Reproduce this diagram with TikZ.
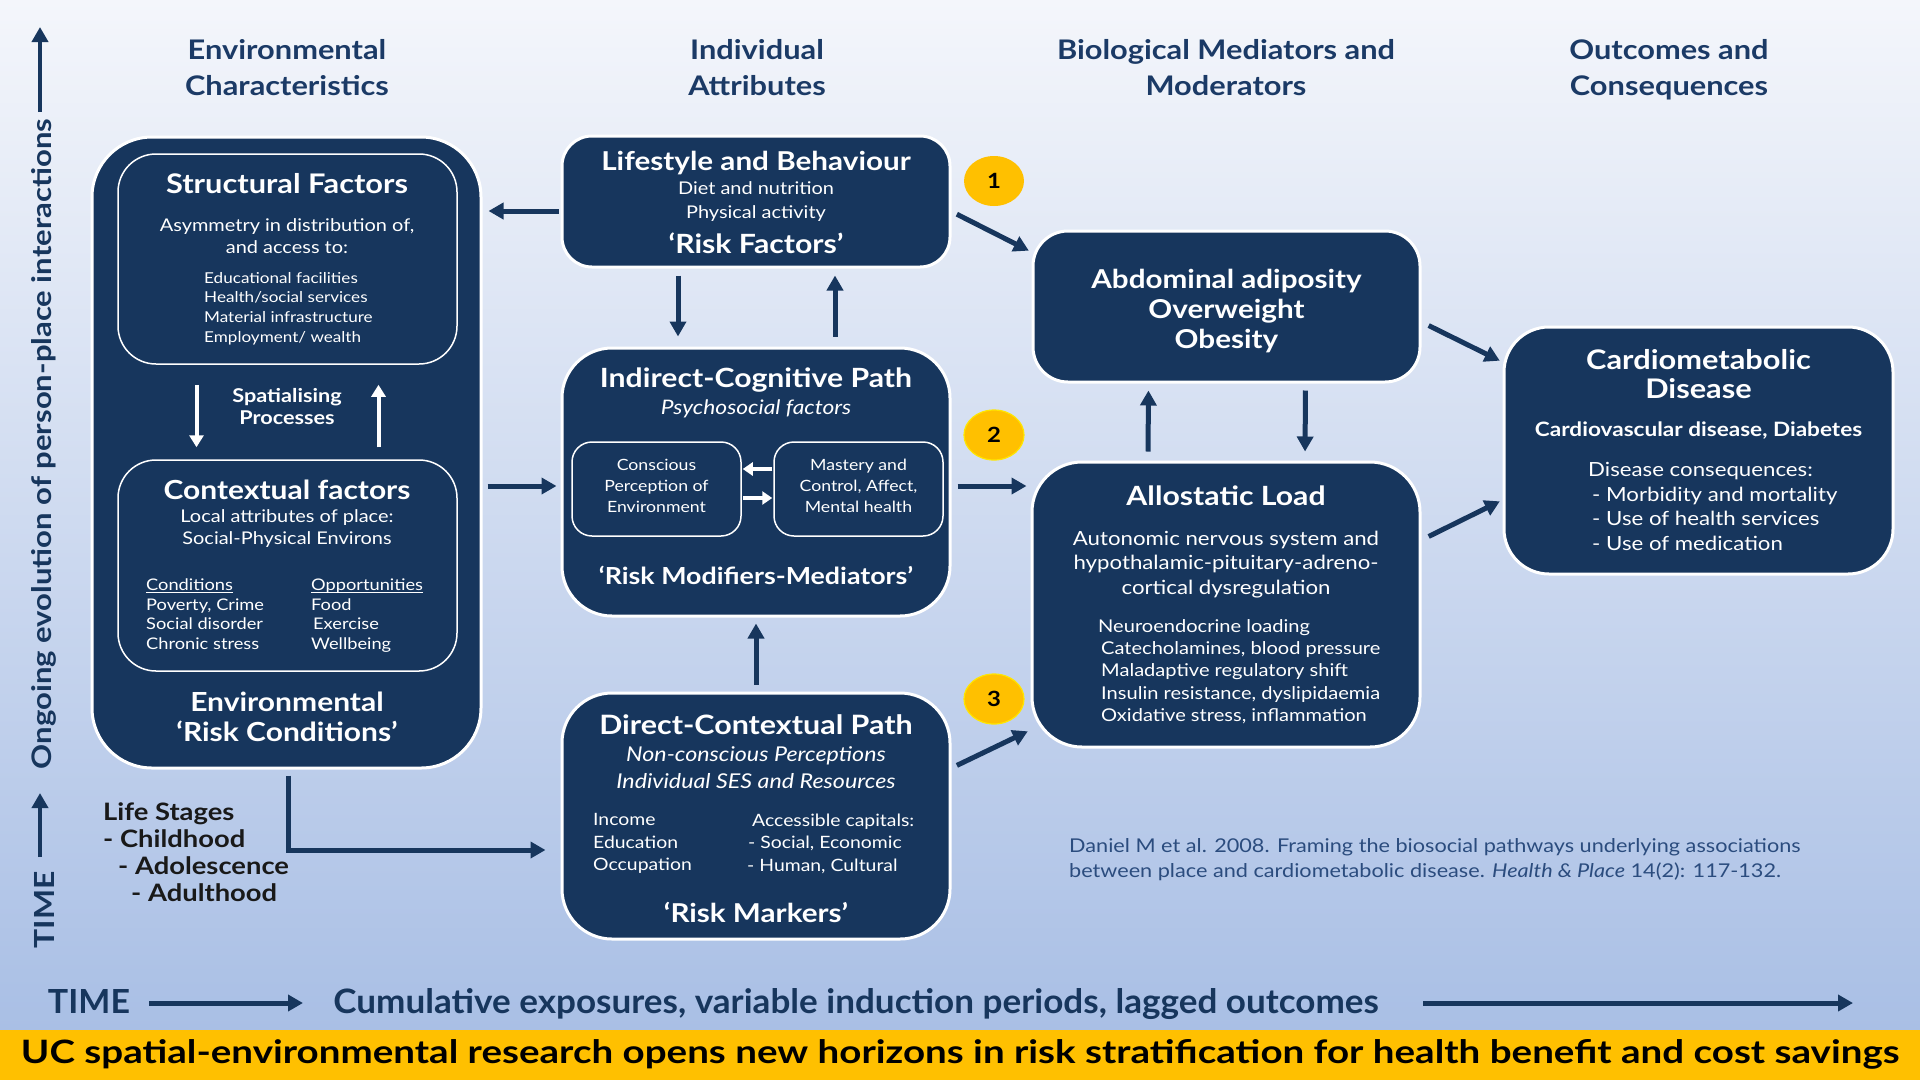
\documentclass[tikz,border=0pt]{standalone}
\usepackage{fontspec}
\setmainfont{Lato}[FakeStretch=1.14]
\usetikzlibrary{arrows.meta,shapes.geometric,calc}
\definecolor{navy}{HTML}{17365D}
\definecolor{hnavy}{HTML}{1B3A66}
\definecolor{citec}{HTML}{2B4C7E}
\definecolor{bgtop}{HTML}{F4F6FB}
\definecolor{bgbot}{HTML}{A9BFE5}
\definecolor{ucyel}{HTML}{FFC000}
\definecolor{ringyel}{HTML}{FFE600}
\newcommand{\flatul}[1]{\underline{\raisebox{0pt}[\height][0pt]{#1}}}
\tikzset{
  bigbox/.style={draw=white,line width=3pt,fill=navy,rectangle,inner sep=0pt},
  inbox/.style={draw=white,line width=1.5pt,fill=navy,rectangle,inner sep=0pt},
  wt/.style={text=white,align=center,inner sep=0pt},
  hdr/.style={text=hnavy,align=center,inner sep=0pt,font=\fontsize{27}{36}\selectfont\bfseries},
  arr/.style={draw=navy,line width=5pt,-{Triangle[length=15pt,width=16pt]}},
  warr/.style={draw=white,line width=4pt,-{Triangle[length=12pt,width=14pt]}},
  wsarr/.style={draw=white,line width=3.5pt,-{Triangle[length=10pt,width=13pt]}},
  numc/.style={ellipse,fill=ucyel,minimum width=60pt,minimum height=50pt,inner sep=0pt,font=\fontsize{21}{24}\selectfont\bfseries,text=black},
}
\begin{document}
\begin{tikzpicture}[x=1pt,y=-1pt]
\useasboundingbox (0,0) rectangle (1920,1080);
% background
\shade[top color=bgtop,bottom color=bgbot] (0,0) rectangle (1920,1030);
\fill[ucyel] (0,1030) rectangle (1920,1080);

% headers
\node[hdr] (h1) at (287,68) {Environmental\\Characteristics};
\node[hdr] (h2) at (757,68) {Individual\\Attributes};
\node[hdr] (h3) at (1226,68) {Biological Mediators and\\Moderators};
\node[hdr] (h4) at (1669,70) {Outcomes and\\Consequences};

% boxes
\node[bigbox,rounded corners=60pt,minimum width=389pt,minimum height=631pt] (env) at (286.5,452.5) {};
\node[inbox,rounded corners=38pt,minimum width=339pt,minimum height=210pt] (struct) at (287.5,259) {};
\node[inbox,rounded corners=38pt,minimum width=339pt,minimum height=211pt] (context) at (287.5,565.5) {};
\node[bigbox,rounded corners=30pt,minimum width=388pt,minimum height=131pt] (life) at (756,201.5) {};
\node[bigbox,rounded corners=50pt,minimum width=388pt,minimum height=268pt] (indirect) at (756,482) {};
\node[inbox,rounded corners=20pt,minimum width=169pt,minimum height=94pt] (consc) at (656.5,489) {};
\node[inbox,rounded corners=20pt,minimum width=169pt,minimum height=94pt] (mastery) at (858.5,489) {};
\node[bigbox,rounded corners=50pt,minimum width=388pt,minimum height=246pt] (direct) at (756,816) {};
\node[bigbox,rounded corners=35pt,minimum width=387pt,minimum height=151pt] (abd) at (1226.5,306.5) {};
\node[bigbox,rounded corners=50pt,minimum width=388pt,minimum height=285pt] (allo) at (1226,604.5) {};
\node[bigbox,rounded corners=45pt,minimum width=389pt,minimum height=247pt] (cardio) at (1698.5,450.5) {};

% structural text
\node[wt,font=\fontsize{27}{30}\selectfont\bfseries] (t1) at (287,184) {Structural Factors};
\node[wt,font=\fontsize{17.5}{22}\selectfont] (t2) at (287,236) {Asymmetry in distribution of,\\and access to:};
\node[wt,align=left,anchor=west,font=\fontsize{15}{19.7}\selectfont] (t3) at (204,308.5) {Educational facilities\\Health/social services\\Material infrastructure\\Employment/ wealth};
\draw[warr,shorten <=20pt,shorten >=12pt] ([xshift=-91pt]struct.south) -- ([xshift=-91pt]context.north);
\draw[warr,shorten <=12pt,shorten >=20pt] ([xshift=91pt]context.north) -- ([xshift=91pt]struct.south);
\node[wt,font=\fontsize{19}{22}\selectfont\bfseries] (sp) at (287,407) {Spatialising\\Processes};

% contextual text
\node[wt,font=\fontsize{26.3}{30}\selectfont\bfseries] (t4) at (287,490) {Contextual factors};
\node[wt,font=\fontsize{17.5}{22}\selectfont] (t5) at (287,529) {Local attributes of place:\\Social-Physical Environs};
\node[wt,align=left,anchor=north west,font=\fontsize{16}{19.7}\selectfont] (t6) at (146,578.5) {\flatul{Conditions}\\Poverty, Crime\\Social disorder\\Chronic stress};
\node[wt,align=left,anchor=north west,font=\fontsize{16}{19.7}\selectfont] (t7) at (311,578.5) {\flatul{Opportunities}\\Food\\\hspace*{2pt}Exercise\\Wellbeing};
\node[wt,font=\fontsize{26.3}{30}\selectfont\bfseries] (t8) at (287,717) {Environmental\\‘Risk Conditions’};

% lifestyle text
\node[wt,font=\fontsize{26}{30}\selectfont\bfseries] (t9) at (756,163) {Lifestyle and Behaviour};
\node[wt,font=\fontsize{17.5}{24}\selectfont] (t10) at (756,202) {Diet and nutrition\\Physical activity};
\node[wt,font=\fontsize{26.5}{28}\selectfont\bfseries] (t11) at (756,243) {‘Risk Factors’};

% indirect text
\node[wt,font=\fontsize{26.5}{30}\selectfont\bfseries] (t12) at (756,380) {Indirect-Cognitive Path};
\node[wt,font=\fontsize{20}{24}\selectfont\itshape] (t13) at (756,409) {Psychosocial factors};
\node[wt,font=\fontsize{15.5}{21}\selectfont] (t14) at (656.5,486) {Conscious\\Perception of\\Environment};
\node[wt,font=\fontsize{15.5}{21}\selectfont] (t15) at (858.5,486) {Mastery and\\Control, Affect,\\Mental health};
\draw[wsarr,shorten <=1pt,shorten >=1pt] ([yshift=20pt]mastery.west) -- ([yshift=20pt]consc.east);
\draw[wsarr,shorten <=1pt,shorten >=1pt] ([yshift=-9pt]consc.east) -- ([yshift=-9pt]mastery.west);
\node[wt,font=\fontsize{23.5}{26}\selectfont\bfseries] (t16) at (756,575) {‘Risk Modifiers-Mediators’};

% direct text
\node[wt,font=\fontsize{26.7}{30}\selectfont\bfseries] (t17) at (756,725) {Direct-Contextual Path};
\node[wt,font=\fontsize{20.4}{27}\selectfont\itshape] (t18) at (756,767.5) {Non-conscious Perceptions\\Individual SES and Resources};
\node[wt,align=left,anchor=west,font=\fontsize{17}{22.5}\selectfont] (t19) at (593,843.5) {Income\\Education\\Occupation};
\node[wt,align=left,anchor=west,font=\fontsize{17}{22.5}\selectfont] (t20) at (747,843.5) {\hspace*{5pt}Accessible capitals:\\\hspace*{1pt}- Social, Economic\\- Human, Cultural};
\node[wt,font=\fontsize{26}{28}\selectfont\bfseries] (t21) at (756,912) {‘Risk Markers’};

% abdominal text
\node[wt,font=\fontsize{26}{30}\selectfont\bfseries] (t22) at (1226.5,311) {Abdominal adiposity\\Overweight\\Obesity};

% allostatic text
\node[wt,font=\fontsize{26.5}{30}\selectfont\bfseries] (t23) at (1226,496) {Allostatic Load};
\node[wt,font=\fontsize{19.5}{24.5}\selectfont] (t24) at (1226,564.5) {Autonomic nervous system and\\hypothalamic-pituitary-adreno-\\cortical dysregulation};
\node[wt,align=left,anchor=west,font=\fontsize{17.6}{22.2}\selectfont] (t25) at (1098,671.5) {Neuroendocrine loading\\\hspace*{3pt}Catecholamines, blood pressure\\\hspace*{3pt}Maladaptive regulatory shift\\\hspace*{3pt}Insulin resistance, dyslipidaemia\\\hspace*{3pt}Oxidative stress, inflammation};

% cardio text
\node[wt,font=\fontsize{27}{29}\selectfont\bfseries] (t26) at (1698.5,374.5) {Cardiometabolic\\Disease};
\node[wt,font=\fontsize{19.8}{21}\selectfont\bfseries] (t27) at (1698.5,431) {Cardiovascular disease, Diabetes};
\node[wt,align=left,anchor=west,font=\fontsize{19.5}{24.5}\selectfont] (t28) at (1588,506.5) {Disease consequences:\\\hspace*{4pt}- Morbidity and mortality\\\hspace*{4pt}- Use of health services\\\hspace*{4pt}- Use of medication};

% number circles
\node[numc] (n1) at (994,181) {1};
\node[numc,draw=ringyel,line width=1.2pt] (n2) at (994,435) {2};
\node[numc,draw=ringyel,line width=1.2pt] (n3) at (994,699) {3};

% connectors
\draw[arr,shorten <=2pt,shorten >=6pt] ([yshift=-9.5pt]life.west) -- ([yshift=-9.5pt]life.west -| env.east);
\draw[arr,shorten <=5pt,shorten >=4pt] ([yshift=-4pt]indirect.west -| env.east) -- ([yshift=-4pt]indirect.west);
\draw[arr,shorten <=7pt,shorten >=10pt] ([xshift=-78pt]life.south) -- ([xshift=-78pt]indirect.north);
\draw[arr,shorten <=10pt,shorten >=7pt] ([xshift=79pt]indirect.north) -- ([xshift=79pt]life.south);
\draw[arr,shorten <=7pt,shorten >=6pt] (direct.north) -- (indirect.south);
\draw[arr,shorten <=6pt,shorten >=3pt] ([yshift=-10pt]life.east) -- ([yshift=54.5pt]abd.west);
\draw[arr,shorten <=6pt,shorten >=4pt] ([yshift=-4pt]indirect.east) -- ([yshift=-4pt]indirect.east -| allo.west);
\draw[arr,shorten <=6pt,shorten >=3pt] ([yshift=48pt]direct.east) -- ([yshift=-125.5pt]allo.west);
\draw[arr,shorten <=9pt,shorten >=7pt] ([xshift=-78pt]allo.north) -- ([xshift=-78pt]abd.south);
\draw[arr,shorten <=7pt,shorten >=9pt] ([xshift=79pt]abd.south) -- ([xshift=79pt]allo.north);
\draw[arr,shorten <=8pt,shorten >=3pt] ([yshift=-15.5pt]abd.east) -- ([yshift=88.5pt]cardio.west);
\draw[arr,shorten <=8pt,shorten >=3pt] ([yshift=64.5pt]allo.east) -- ([yshift=-49.5pt]cardio.west);
\draw[arr,shorten <=6pt,shorten >=15pt] ([xshift=1.5pt]env.south) |- ([yshift=-34pt]direct.west);

% life stages
\node[align=left,anchor=west,inner sep=0pt,text=black!90,font=\fontsize{24}{27}\selectfont\bfseries] (ls) at (103,852.5) {Life Stages\\- Childhood\\\hspace*{15pt}- Adolescence\\\hspace*{28pt}- Adulthood};

% citation
\node[align=left,anchor=west,inner sep=0pt,text=citec,font=\fontsize{19}{25}\selectfont] (cite) at (1069,859.5) {Daniel M et al. 2008. Framing the biosocial pathways underlying associations\\between place and cardiometabolic disease. \textit{Health \& Place} 14(2): 117-132.};

% left vertical axis
\node[rotate=90,inner sep=0pt,text=navy,font=\bfseries] (vtime) at (44,910) {\resizebox{77pt}{20pt}{TIME}};
\node[rotate=90,inner sep=0pt,text=navy,font=\bfseries] (vtext) at (44,444) {\resizebox{650pt}{20pt}{Ongoing evolution of person-place interactions}};
\coordinate (va1) at (40,857);
\coordinate (va2) at (40,793);
\coordinate (vb1) at (40,112);
\coordinate (vb2) at (40,27);
\draw[arr,line width=4pt] (va1) -- (va2);
\draw[arr,line width=4pt] (vb1) -- (vb2);

% bottom axis
\node[inner sep=0pt,text=navy,font=\bfseries,anchor=base] (btime) at (89,1013) {\resizebox{82pt}{24pt}{TIME}};
\node[inner sep=0pt,text=navy,font=\bfseries,anchor=base] (btext) at (856,1013) {\resizebox{1045pt}{25pt}{Cumulative exposures, variable induction periods, lagged outcomes}};
\coordinate (ba1) at (149,1003);
\coordinate (ba2) at (303,1003);
\coordinate (bb1) at (1423,1003);
\coordinate (bb2) at (1853,1003);
\draw[arr] (ba1) -- (ba2);
\draw[arr] (bb1) -- (bb2);

% yellow band text
\node[inner sep=0pt,text=black,font=\bfseries,anchor=base] (uc) at (960,1063) {\resizebox{1878pt}{24pt}{UC spatial-environmental research opens new horizons in risk stratification for health benefit and cost savings}};
\end{tikzpicture}
\end{document}
